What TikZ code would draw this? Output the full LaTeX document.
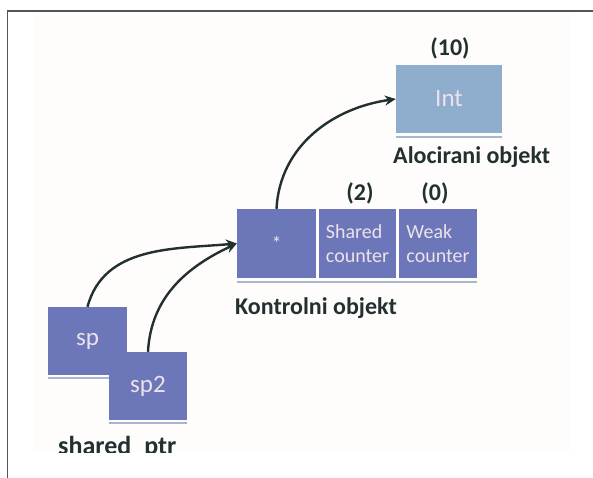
\documentclass[tikz,border=0pt]{standalone}
\usepackage{fontspec}
\setmainfont{Carlito}
\usetikzlibrary{arrows.meta}
\definecolor{boxblue}{HTML}{6B77B9}
\definecolor{intblue}{HTML}{8FADCC}
\definecolor{boxtext}{HTML}{EEE2EA}
\definecolor{labeltext}{HTML}{22302F}
\definecolor{framegray}{HTML}{555555}
\definecolor{shadowline}{HTML}{A9B6CF}
\definecolor{paper}{HTML}{FEFDFB}
\begin{document}
\begin{tikzpicture}[x=1pt,y=-1pt,
  box/.style={fill=boxblue, text=boxtext, inner sep=0pt, align=left,
    minimum width=78pt, minimum height=68pt, font=\fontsize{25}{30}\selectfont},
  smallbox/.style={box, font=\fontsize{20}{24}\selectfont},
  lbl/.style={text=labeltext, inner sep=0pt, font=\bfseries\fontsize{24}{28}\selectfont},
  conn/.style={draw=labeltext, line width=2.4pt, -{Stealth[length=11pt,width=10pt]}},
  shadowln/.style={draw=shadowline, line width=1.5pt}]
\useasboundingbox (0,0) rectangle (593,478);
\fill[paper] (34,12) rectangle (570,452);
\draw[framegray, line width=1.4pt] (593,11) -- (7.5,11) -- (7.5,478);

% allocated object
\node[box, fill=intblue, minimum width=106pt] (intbox) at (449,99) {Int};
\draw[shadowln] ([yshift=-4pt]intbox.south west) -- ([yshift=-4pt]intbox.south east);
\node[lbl] (intcount) at (450,48) {(10)};
\node[lbl, anchor=west] (alloclbl) at (393,157) {Alocirani objekt};

% control object
\node[smallbox, minimum width=79pt, minimum height=69pt] (ptrbox) at (276.5,243.5) {*};
\node[smallbox, minimum width=77pt, minimum height=69pt] (shbox) at (357.5,243.5) {Shared\\counter};
\node[smallbox, minimum width=78pt, minimum height=69pt] (wkbox) at (438,243.5) {Weak\\counter};
\draw[shadowln] ([yshift=-4pt]ptrbox.south west) -- ([yshift=-4pt]wkbox.south east);
\node[lbl] (shcount) at (360,193) {(2)};
\node[lbl] (wkcount) at (435,193) {(0)};
\node[lbl, anchor=west] (ctrllbl) at (235,308) {Kontrolni objekt};

% shared pointers
\node[box, minimum width=79pt] (sp) at (87.5,341) {sp};
\draw[shadowln] ([yshift=-3pt]sp.south west) -- ([yshift=-3pt]sp.south east);
\node[box] (sp2) at (148,386) {sp2};
\draw[shadowln] ([yshift=-3pt]sp2.south west) -- ([yshift=-3pt]sp2.south east);
\begin{scope}
\clip (0,0) rectangle (593,452);
\node[lbl, anchor=base west, font=\bfseries\fontsize{26}{30}\selectfont] (splbl) at (58,454.5) {shared\_ptr};
\end{scope}

% connectors
\draw[conn] (sp.north) to[out=75,in=185] (ptrbox.west);
\draw[conn] (sp2.north) to[out=87,in=205] (ptrbox.west);
\draw[conn] (ptrbox.north) to[out=87,in=188] (intbox.west);
\end{tikzpicture}
\end{document}
